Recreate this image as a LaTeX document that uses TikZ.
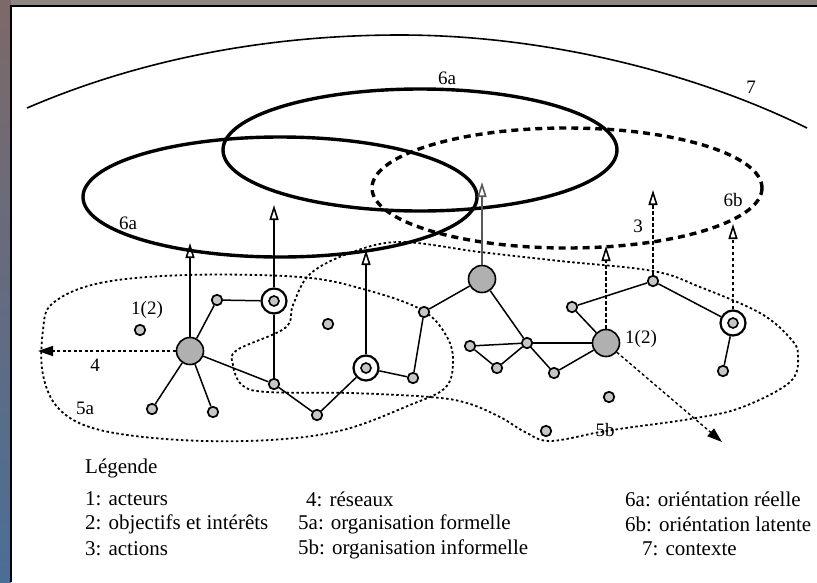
\documentclass[tikz,border=0pt]{standalone}
\usepackage{fontspec}
\setmainfont{Liberation Serif}
\usetikzlibrary{arrows.meta}
\definecolor{photoA}{RGB}{125,105,105}
\definecolor{photoB}{RGB}{75,110,150}
\definecolor{photoC}{RGB}{140,135,130}
\begin{document}
\begin{tikzpicture}[x=1pt,y=-1pt,
 sn/.style={circle,draw,line width=1.7pt,fill=gray!45,minimum size=10.5pt,inner sep=0pt},
 act/.style={circle,draw,line width=1.6pt,fill=gray!62,minimum size=27pt,inner sep=0pt},
 cn/.style={circle,draw,line width=2.2pt,fill=white,minimum size=25pt,inner sep=0pt,
   path picture={\draw[line width=1.6pt,fill=gray!45] (path picture bounding box.center) circle (5pt);}},
 edge/.style={line width=1.5pt},
 up/.style={line width=1.4pt,-{Triangle[open,length=15pt,width=9pt,line width=1.6pt]}},
 updash/.style={up,dash pattern=on 3.5pt off 2.5pt},
 fillarr/.style={line width=1.4pt,dash pattern=on 3pt off 2.5pt,-{Triangle[length=15pt,width=10pt]}},
 region/.style={line width=1.8pt,dash pattern=on 2.5pt off 2.5pt},
 orient/.style={line width=3.4pt},
 latent/.style={line width=3.4pt,dash pattern=on 7pt off 5pt},
 ctx/.style={line width=1.6pt},
 lbl/.style={font=\fontsize{19}{21}\selectfont,inner sep=0pt},
 leg/.style={font=\fontsize{21}{24}\selectfont,anchor=west,inner sep=0pt}
]
\useasboundingbox (0,0) rectangle (817,582);
% photo surround and frame
\shade[top color=photoA,bottom color=photoB] (0,0) rectangle (11,582);
\fill[photoC] (11,0) rectangle (817,6);
\fill[white] (11,6) rectangle (817,582);
\draw[line width=1.5pt] (11,582) -- (11,6) -- (817,6);

% context arc
\draw[ctx] (27,108) .. controls (150,55) and (280,35) .. (400,35)
  .. controls (550,35) and (700,75) .. (807,128);
\node[lbl] (l7) at (751,87) {7};

% orientations
\draw[orient] (280,197) ellipse [x radius=197, y radius=60];
\draw[orient] (420,150) ellipse [x radius=197, y radius=61];
\draw[latent] (567,188) ellipse [x radius=195, y radius=60];
\node[lbl] (l6a1) at (447,78) {6a};
\node[lbl] (l6a2) at (128,223) {6a};
\node[lbl] (l6b) at (733,200) {6b};
\node[lbl] (l3) at (638,226) {3};

% regions
\draw[region] plot[smooth cycle,tension=0.6] coordinates {(53,303) (100,283) (187,275) (300,277) (363,289) (422,310) (447,337) (453,363) (445,388) (410,405) (343,430) (270,440) (180,440) (100,430) (60,410) (43,375) (43,330)};
\draw[region] plot[smooth cycle,tension=0.6] coordinates {(310,274) (350,253) (400,242) (480,252) (560,261) (653,271) (700,287) (760,313) (790,338) (798,355) (790,382) (740,408) (690,419) (633,427) (600,432) (550,441) (525,432) (500,417) (467,403) (430,397) (350,393) (267,392) (242,385) (233,365) (237,350) (285,328) (293,305)};
\node[lbl] (l5a) at (85,408) {5a};
\node[lbl] (l5b) at (605,430) {5b};

% actors and nodes
\node[act] (A1) at (190,351) {};
\node[act] (A2) at (482,279) {};
\node[act] (A3) at (606,343) {};
\node[cn] (C1) at (274,301) {};
\node[cn] (C2) at (366,368) {};
\node[cn] (C3) at (733,323) {};
\node[sn] (s1) at (217,300) {};
\node[sn] (s2) at (140,330) {};
\node[sn] (s3) at (152,409) {};
\node[sn] (s4) at (213,412) {};
\node[sn] (s5) at (274,384) {};
\node[sn] (s6) at (317,415) {};
\node[sn] (s7) at (328,324) {};
\node[sn] (s8) at (413,378) {};
\node[sn] (s9) at (424,312) {};
\node[sn] (s10) at (470,346) {};
\node[sn] (s11) at (497,368) {};
\node[sn] (s12) at (527,343) {};
\node[sn] (s13) at (554,373) {};
\node[sn] (s14) at (572,307) {};
\node[sn] (s15) at (609,397) {};
\node[sn] (s16) at (546,431) {};
\node[sn] (s17) at (653,281) {};
\node[sn] (s18) at (723,371) {};
\node[lbl] (i1) at (147,310) {1(2)};
\node[lbl] (i2) at (641,339) {1(2)};

% network edges
\foreach \a/\b in {A1/s1,s1/C1,C1/s5,A1/s5,A1/s3,A1/s4,s5/s6,s6/C2,C2/s8,s8/s9,s9/A2,A2/s12,s10/s12,s10/s11,s11/s12,s12/s13,s12/A3,s13/A3,s14/A3,s14/s17,s17/C3,C3/s18}
  \draw[edge] (\a) -- (\b);

% actions (arrows up)
\coordinate (t1) at (190,243);
\coordinate (t2) at (274,205);
\coordinate (t3) at (366,250);
\coordinate (t4) at (482,182);
\coordinate (t5) at (606,246);
\coordinate (t6) at (653,190);
\coordinate (t7) at (733,224);
\draw[up] (A1) -- (t1);
\draw[up] (C1) -- (t2);
\draw[up] (C2) -- (t3);
\draw[up,draw=gray!70!black] (A2) -- (t4);
\draw[updash] (A3) -- (t5);
\draw[updash] (s17) -- (t6);
\draw[updash] (C3) -- (t7);

% networks (filled arrows)
\coordinate (n4) at (38,351);
\coordinate (n5) at (722,442);
\draw[fillarr] (A1) -- (n4);
\draw[fillarr] (A3) -- (n5);
\node[lbl] (l4) at (95,365) {4};

% legend
\node[leg] (lg) at (85,468) {Légende};
\node[leg] (g1) at (85,499) {1: acteurs};
\node[leg] (g2) at (85,524) {2: objectifs et intérêts};
\node[leg] (g3) at (85,549) {3: actions};
\node[leg] (g4) at (306,499) {4: réseaux};
\node[leg] (g5a) at (298,524) {5a: organisation formelle};
\node[leg] (g5b) at (298,549) {5b: organisation informelle};
\node[leg] (g6a) at (625,499) {6a: oriéntation réelle};
\node[leg] (g6b) at (625,524) {6b: oriéntation latente};
\node[leg] (g7) at (642,549) {7: contexte};
\end{tikzpicture}
\end{document}
